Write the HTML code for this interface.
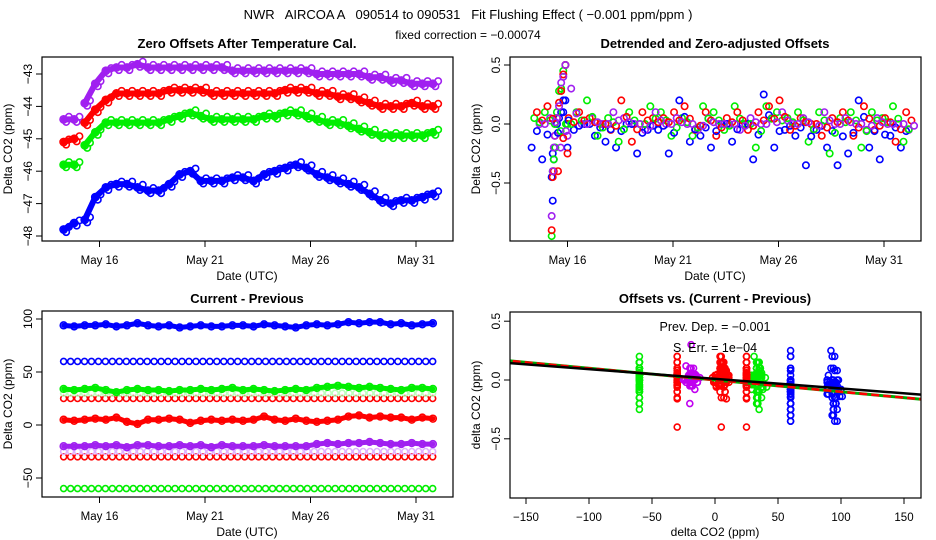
<!DOCTYPE html>
<html><head><meta charset="utf-8"><style>
html,body{margin:0;padding:0;background:#fff;}
svg{display:block;font-family:"Liberation Sans",sans-serif;}
</style></head><body>
<svg id="chart" width="936" height="540" viewBox="0 0 936 540" xmlns="http://www.w3.org/2000/svg">
<rect x="0" y="0" width="936" height="540" fill="#fff"/>
<text x="468" y="19" font-size="13" text-anchor="middle" xml:space="preserve">NWR   AIRCOA A   090514 to 090531   Fit Flushing Effect ( −0.001 ppm/ppm )</text>
<text x="468" y="39" font-size="12" text-anchor="middle">fixed correction = −0.00074</text>
<g id="g"></g>
</svg>
<script>
// ---- shared data ----
const times = [14.3,14.8,15.3,15.8,16.3,16.8,17.3,17.8,18.3,18.8,19.3,19.8,20.3,20.8,21.3,21.8,22.3,22.8,23.3,23.8,24.3,24.8,25.3,25.8,26.3,26.8,27.3,27.8,28.3,28.8,29.3,29.8,30.3,30.8,31.3,31.8];
const dateTicks = [16,21,26,31];
const dateTickLabels = ["May 16","May 21","May 26","May 31"];
// panel 1: zero offsets
const offBlue = [-47.8,-47.6,-47.5,-46.8,-46.5,-46.4,-46.4,-46.5,-46.6,-46.6,-46.4,-46.1,-46.0,-46.3,-46.3,-46.3,-46.2,-46.2,-46.3,-46.1,-46.0,-45.9,-45.8,-45.9,-46.1,-46.2,-46.3,-46.4,-46.5,-46.7,-46.9,-47.0,-46.9,-46.9,-46.8,-46.7];
const offPurple = [-44.4,-44.4,-43.9,-43.3,-42.9,-42.8,-42.8,-42.7,-42.8,-42.8,-42.8,-42.8,-42.8,-42.8,-42.8,-42.8,-42.9,-42.9,-42.9,-42.9,-42.9,-42.9,-42.9,-42.9,-43.0,-43.0,-43.0,-43.0,-43.0,-43.1,-43.1,-43.2,-43.2,-43.3,-43.3,-43.3];
const offRed = [-45.1,-45.0,-44.5,-44.1,-43.8,-43.6,-43.6,-43.6,-43.6,-43.6,-43.5,-43.5,-43.5,-43.5,-43.6,-43.6,-43.6,-43.6,-43.6,-43.6,-43.6,-43.5,-43.5,-43.5,-43.6,-43.6,-43.7,-43.7,-43.8,-43.9,-44.0,-44.0,-44.0,-43.9,-44.0,-44.0];
const offGreen = [-45.8,-45.8,-45.2,-44.8,-44.5,-44.5,-44.5,-44.5,-44.5,-44.5,-44.4,-44.3,-44.2,-44.3,-44.4,-44.4,-44.4,-44.4,-44.4,-44.3,-44.3,-44.2,-44.2,-44.3,-44.4,-44.5,-44.5,-44.6,-44.7,-44.8,-44.9,-44.9,-44.9,-44.9,-44.9,-44.8];
const p1Ticks = [-43,-44,-45,-46,-47,-48];
// panel 2: residuals
const resBlue = [-0.2,-0.3,-0.25,0.1,-0.05,0.0,-0.1,-0.15,-0.2,0.0,-0.25,-0.05,-0.05,-0.25,0.2,-0.15,-0.1,-0.2,0.0,-0.15,0.0,-0.3,0.25,-0.2,-0.05,-0.1,-0.35,-0.05,-0.2,-0.35,-0.25,0.2,-0.2,-0.3,-0.1,-0.2];
const resGreen = [0.05,0.1,-0.2,0.0,0.1,0.2,-0.1,0.05,-0.15,0.1,0.0,0.15,0.1,-0.1,0.05,-0.1,0.15,0.1,-0.05,0.15,0.0,-0.2,0.15,0.1,0.05,0.1,-0.15,0.1,-0.25,0.05,0.1,-0.2,0.1,0.05,0.15,-0.15];
const resRed = [0.1,0.15,-0.4,0.05,0.1,0.05,0.0,-0.05,0.2,-0.15,0.1,0.05,0.05,0.1,0.15,-0.05,0.1,-0.1,0.05,0.1,-0.05,0.1,0.15,0.2,-0.05,0.05,0.0,-0.1,0.05,0.1,-0.1,0.15,-0.05,0.05,-0.15,0.1];
const resPurple = [0.0,0.05,-0.2,0.3,0.0,0.05,0.0,0.1,0.05,0.0,-0.05,0.1,0.0,0.05,0.0,-0.05,0.05,0.0,0.0,-0.05,0.05,0.0,0.05,0.1,0.0,0.05,-0.05,0.1,0.0,0.05,0.0,-0.05,0.05,0.0,0.0,-0.05];
const spikeTimes = [15.25,15.3,15.35,15.4,15.5,15.6,15.7,15.8,15.9,16.0];
const spikeBlue = [-0.45,-0.65,-0.3,-0.2,0.0,0.05,0.1,0.2,0.2,-0.2];
const spikeGreen = [-0.95,-0.4,-0.3,0.0,0.1,0.28,0.3,0.45,0.5,0.0];
const spikeRed = [-0.9,-0.45,-0.4,-0.1,0.05,0.18,0.28,0.42,0.5,-0.25];
const spikePurple = [-0.78,-0.4,-0.2,-0.1,0.05,0.15,0.35,0.4,0.5,-0.1];
const p2Ticks = [0.5,0.0,-0.5];
const p2TickLabels = ["0.5","0.0","−0.5"];
// panel 3: current - previous
const cpBlue = [94,93,94,94,95,93,94,96,94,93,94,92,93,94,93,93,94,94,93,95,94,93,92,94,95,94,95,97,96,97,97,95,96,94,95,96];
const cpGreen = [34,33,34,35,33,31,33,34,33,33,32,33,33,34,33,34,35,33,34,33,32,33,34,33,35,36,37,36,35,36,35,34,33,35,35,34];
const cpRed = [5,4,5,6,5,7,3,1,5,5,6,5,2,4,5,4,5,4,5,8,5,4,6,4,3,4,5,8,9,7,8,7,7,5,7,6];
const cpPurple = [-20,-20,-20,-19,-20,-19,-21,-19,-19,-20,-20,-19,-20,-19,-21,-19,-20,-20,-20,-19,-20,-20,-20,-20,-18,-17,-18,-17,-17,-16,-17,-18,-18,-17,-18,-18];
const constLevels = [60,25,-30,-60,30,-25];
const constColors = ["#0000ff","#ff0000","#ff0000","#00ee00","#bbffbb","#e0b0ff"];
const p3Ticks = [100,50,0,-50];
// panel 4
const p4XTicks = [-150,-100,-50,0,50,100,150];
const p4YTicks = [0.5,0.0,-0.5];
const fitIntercepts = [0.01,0.0];
const fitSlopes = [-0.00082,-0.001];
</script>
<script>
const NS="http://www.w3.org/2000/svg";
const G=document.getElementById('g');
function el(tag,attrs,parent){const e=document.createElementNS(NS,tag);for(const k in attrs)e.setAttribute(k,attrs[k]);(parent||G).appendChild(e);return e;}
function txt(s,attrs,parent){const e=el('text',attrs,parent);e.textContent=s;return e;}
const BLUE="#0000ff",RED="#ff0000",GREEN="#00ee00",PURP="#a020f0";

const xDate1=d=>99.5+(d-16)*21.1;
const xDate2=d=>567.5+(d-16)*21.1;
const y1=v=>74+(-43-v)*32.4;
const y2=v=>124-v*118;
const y3=v=>425-v*1.06;
const x4=v=>715+v*1.26;
const y4=v=>380-v*117.6;

function panelBox(name,x0,y0,x1,y1_){
  const r=el('rect',{x:x0,y:y0,width:x1-x0,height:y1_-y0,fill:'none',stroke:'#000','stroke-width':1.2});
  
}
function yAxis(name,x0,ticks,labels,ys){
  const g=el('g',{});
  el('line',{x1:x0,x2:x0,y1:ys(ticks[0]),y2:ys(ticks[ticks.length-1]),stroke:'#000'},g);
  ticks.forEach((t,i)=>{const y=ys(t);el('line',{x1:x0-6,x2:x0,y1:y,y2:y,stroke:'#000'},g);
    const tx=txt(labels[i],{x:x0-10,y:y,'font-size':12,'text-anchor':'middle',transform:`rotate(-90 ${x0-10} ${y})`},g);
    });
}
function xAxis(name,yb,ticks,labels,xs){
  const g=el('g',{});
  el('line',{x1:xs(ticks[0]),x2:xs(ticks[ticks.length-1]),y1:yb,y2:yb,stroke:'#000'},g);
  ticks.forEach((t,i)=>{const x=xs(t);el('line',{x1:x,x2:x,y1:yb,y2:yb+6,stroke:'#000'},g);
    const tx=txt(labels[i],{x:x,y:yb+23,'font-size':11.5,'text-anchor':'middle'},g);
    });
}
function label(s,name,attrs){const t=txt(s,attrs);return t;}
function pts(name,xsArr,ysArr,xs,ys,color,r,clipId){
  const g=el('g',{'clip-path':`url(#${clipId})`});
  xsArr.forEach((xv,i)=>{const c=el('circle',{cx:xs(xv),cy:ys(ysArr[i]),r:r||3,fill:'none',stroke:color,'stroke-width':1.6},g);
    });
  return g;
}
function band(name,xsArr,ysArr,xs,ys,color,w,clipId){
  const p=el('polyline',{points:xsArr.map((xv,i)=>xs(xv)+','+ys(ysArr[i])).join(' '),fill:'none',stroke:color,'stroke-width':w,'stroke-linejoin':'round','stroke-linecap':'round','clip-path':`url(#${clipId})`});
  
}
const defs=el('defs',{});
[['c1',42,57,453,241],['c2',510,57,921,241],['c3',42,311,453,497],['c4',510,312,921,498]].forEach(c=>{
  const cp=el('clipPath',{id:c[0]},defs);el('rect',{x:c[1],y:c[2],width:c[3]-c[1],height:c[4]-c[2]},cp);});

// ---- Panel 1 ----
label('Zero Offsets After Temperature Cal.','panel1-title',{x:247,y:48,'font-size':13,'font-weight':'bold','text-anchor':'middle'});
[[offPurple,PURP,'purple'],[offRed,RED,'red'],[offGreen,GREEN,'green'],[offBlue,BLUE,'blue']].forEach(s=>{
  const pre=times.filter(t=>t<15.2), n=pre.length;
  band('offset-band-'+s[2]+'-a',times.slice(0,n),s[0].slice(0,n),xDate1,y1,s[1],6,'c1');
  band('offset-band-'+s[2]+'-b',times.slice(n),s[0].slice(n),xDate1,y1,s[1],6,'c1');
  pts('offset-series-'+s[2],times,s[0],xDate1,y1,s[1],3.6,'c1');
  pts('offset-series-up-'+s[2],times.map(t=>t+0.25),s[0].map(v=>v+0.08),xDate1,y1,s[1],3.2,'c1');
  pts('offset-series-dn-'+s[2],times.map(t=>t+0.12),s[0].map(v=>v-0.08),xDate1,y1,s[1],3.2,'c1');
});
panelBox('panel1',42,57,453,241);
yAxis('panel1',42,p1Ticks,p1Ticks.map(v=>String(v).replace('-','−')),y1);
xAxis('panel1',241,dateTicks,dateTickLabels,xDate1);
label('Date (UTC)','panel1-x-axis-title',{x:247,y:280,'font-size':12,'text-anchor':'middle'});
label('Delta CO2 (ppm)','panel1-y-axis-title',{x:12,y:149,'font-size':12,'text-anchor':'middle',transform:'rotate(-90 12 149)'});

// ---- Panel 2 ----
label('Detrended and Zero-adjusted Offsets','panel2-title',{x:715,y:48,'font-size':13,'font-weight':'bold','text-anchor':'middle'});
const resSeries=[[resBlue,spikeBlue,BLUE,'blue',0],[resGreen,spikeGreen,GREEN,'green',0.125],[resRed,spikeRed,RED,'red',0.25],[resPurple,spikePurple,PURP,'purple',0.375]];
resSeries.forEach(s=>{
  const ts=times.map(t=>t+s[4]);
  pts('residual-series-'+s[3],ts,s[0],xDate2,y2,s[2],3.2,'c2');
  pts('residual-spike-'+s[3],spikeTimes,s[1],xDate2,y2,s[2],3.2,'c2');
});
resSeries.forEach(s=>{const ts=times.map(t=>t+s[4]+0.25);
  pts('residual-core-'+s[3],ts,s[0].map(v=>v*0.3),xDate2,y2,s[2],3.2,'c2');});
panelBox('panel2',510,57,921,241);
yAxis('panel2',510,p2Ticks,p2TickLabels,y2);
xAxis('panel2',241,dateTicks,dateTickLabels,xDate2);
label('Date (UTC)','panel2-x-axis-title',{x:715,y:280,'font-size':12,'text-anchor':'middle'});
label('Delta CO2 (ppm)','panel2-y-axis-title',{x:480,y:149,'font-size':12,'text-anchor':'middle',transform:'rotate(-90 480 149)'});

// ---- Panel 3 ----
label('Current - Previous','panel3-title',{x:247,y:303,'font-size':13,'font-weight':'bold','text-anchor':'middle'});
const constTimes=[];for(let t=14.3;t<=31.9;t+=0.33)constTimes.push(t);
constLevels.forEach((lv,i)=>{pts('constant-series-'+i,constTimes,constTimes.map(()=>lv),xDate1,y3,constColors[i],3,'c3');});
[[cpBlue,BLUE,'blue'],[cpGreen,GREEN,'green'],[cpRed,RED,'red'],[cpPurple,PURP,'purple']].forEach(s=>{
  band('cp-band-'+s[2],times,s[0],xDate1,y3,s[1],5,'c3');
  pts('cp-series-'+s[2],times,s[0],xDate1,y3,s[1],3.4,'c3');
});
panelBox('panel3',42,311,453,497);
yAxis('panel3',42,p3Ticks,p3Ticks.map(v=>String(v).replace('-','−')),y3);
xAxis('panel3',497,dateTicks,dateTickLabels,xDate1);
label('Date (UTC)','panel3-x-axis-title',{x:247,y:536,'font-size':12,'text-anchor':'middle'});
label('Delta CO2 (ppm)','panel3-y-axis-title',{x:12,y:404,'font-size':12,'text-anchor':'middle',transform:'rotate(-90 12 404)'});

// ---- Panel 4 ----
label('Offsets vs. (Current - Previous)','panel4-title',{x:715,y:303,'font-size':13,'font-weight':'bold','text-anchor':'middle'});
const groups=[
  [cpGreen,resGreen,GREEN,'green-33'],[times.map(()=>constLevels[3]),resGreen,GREEN,'green-neg60'],
  [cpRed,resRed,RED,'red-5'],[times.map(()=>constLevels[1]),resRed,RED,'red-25'],[times.map(()=>constLevels[2]),resRed,RED,'red-neg30'],
  [cpPurple,resPurple,'#c000f0','purple-neg20'],[cpBlue,resBlue,BLUE,'blue-95'],[times.map(()=>constLevels[0]),resBlue,BLUE,'blue-60']];
groups.forEach(g=>{
  pts('scatter-'+g[3],g[0],g[1],x4,y4,g[2],3,'c4');
  const wide=g[0][0]!==g[0][1]||g[0][5]!==g[0][0];
  pts('scatter-core-'+g[3],g[0].map((v,i)=>v+(wide?((i%3)-1)*4:0)),g[1].map(v=>v*0.4),x4,y4,g[2],3,'c4');
});
const lnG=el('g',{'clip-path':'url(#c4)'});
const lr=el('line',{x1:x4(-170),y1:y4(fitIntercepts[1]+fitSlopes[1]*-170),x2:x4(170),y2:y4(fitIntercepts[1]+fitSlopes[1]*170),stroke:'#00aa00','stroke-width':3},lnG);

const lr2=el('line',{x1:x4(-170),y1:y4(fitIntercepts[1]+fitSlopes[1]*-170),x2:x4(170),y2:y4(fitIntercepts[1]+fitSlopes[1]*170),stroke:RED,'stroke-width':2.5,'stroke-dasharray':'8 4'},lnG);

const lb=el('line',{x1:x4(-170),y1:y4(fitIntercepts[0]+fitSlopes[0]*-170),x2:x4(170),y2:y4(fitIntercepts[0]+fitSlopes[0]*170),stroke:'#000','stroke-width':2.5},lnG);

label('Prev. Dep. =  −0.001','fit-slope-text',{x:715,y:331,'font-size':12.5,'text-anchor':'middle'});
label('S. Err. = 1e−04','fit-error-text',{x:715,y:352,'font-size':12.5,'text-anchor':'middle'});
panelBox('panel4',510,312,921,498);
yAxis('panel4',510,p4YTicks,p2TickLabels,y4);
xAxis('panel4',498,p4XTicks,p4XTicks.map(v=>String(v).replace('-','−')),x4);
label('delta CO2 (ppm)','panel4-x-axis-title',{x:715,y:536,'font-size':12,'text-anchor':'middle'});
label('delta CO2 (ppm)','panel4-y-axis-title',{x:480,y:405,'font-size':12,'text-anchor':'middle',transform:'rotate(-90 480 405)'});
</script>
</body></html>
